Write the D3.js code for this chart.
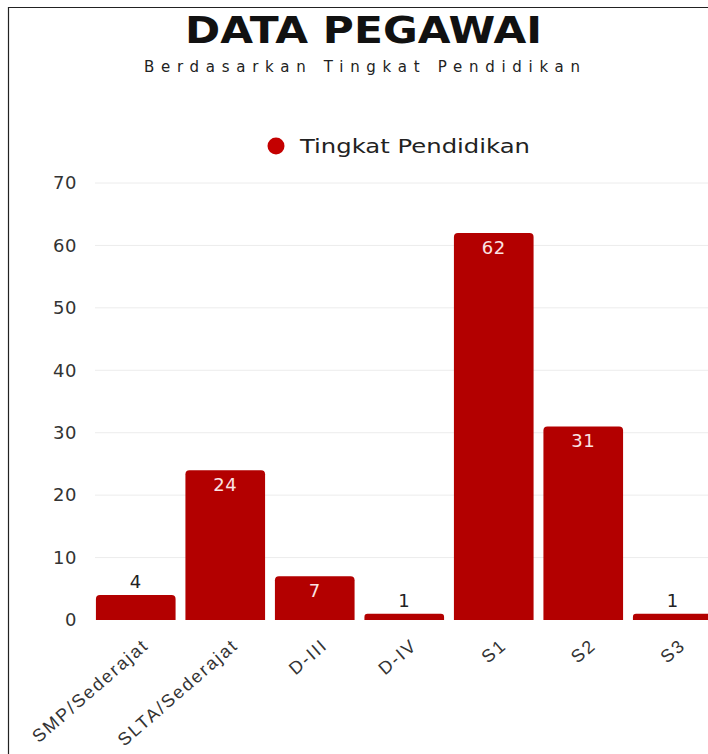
<!DOCTYPE html>
<html>
<head>
<meta charset="utf-8">
<script src="https://cdn.jsdelivr.net/npm/d3@7"></script>
<style>
  body { margin: 0; background: #fff; }
  svg { display: block; font-family: "DejaVu Sans", sans-serif; }
</style>
</head>
<body>
<div id="chart"></div>
<script>
// data
const categories = ["SMP/Sederajat", "SLTA/Sederajat", "D-III", "D-IV", "S1", "S2", "S3"];
const values = [4, 24, 7, 1, 62, 31, 1];
const yTicks = [0, 10, 20, 30, 40, 50, 60, 70];
const seriesName = "Tingkat Pendidikan";

const W = 708, H = 754;
const barColor = "#b30000";

const svg = d3.select("#chart").append("svg")
  .attr("width", W)
  .attr("height", H);

// frame lines (left + top)
svg.append("path")
  .attr("d", "M8.5,754 V7.5 H708")
  .attr("fill", "none")
  .attr("stroke", "#222")
  .attr("stroke-width", 1.2);

// title
svg.append("text")
  .attr("x", 185).attr("y", 43)
  .attr("textLength", 357)
  .attr("lengthAdjust", "spacingAndGlyphs")
  .style("font-weight", "bold")
  .style("font-size", "38px")
  .attr("fill", "#111")
  .text("DATA PEGAWAI");

svg.append("text")
  .attr("x", 144).attr("y", 72)
  .attr("textLength", 436)
  .attr("lengthAdjust", "spacing")
  .style("font-size", "15px")
  .attr("fill", "#222")
  .text("Berdasarkan Tingkat Pendidikan");

// legend
svg.append("circle")
  .attr("cx", 276).attr("cy", 146).attr("r", 8.5)
  .attr("fill", "#c40000");
svg.append("text")
  .attr("x", 300).attr("y", 153)
  .attr("textLength", 230)
  .attr("lengthAdjust", "spacingAndGlyphs")
  .style("font-size", "19px")
  .attr("fill", "#222")
  .text(seriesName);

// scales
const y = d3.scaleLinear().domain([0, 70]).range([620, 183]);
const x = d3.scaleBand().domain(categories).range([91, 717.5]).paddingInner(0.11).paddingOuter(0.055);

// grid
svg.append("g").selectAll("line")
  .data(yTicks.filter(d => d > 0))
  .enter().append("line")
  .attr("x1", 95).attr("x2", W)
  .attr("y1", d => y(d)).attr("y2", d => y(d))
  .attr("stroke", "#ececec")
  .attr("stroke-width", 1);

// y axis labels
const yAxis = d3.axisLeft(y).tickValues(yTicks).tickSize(0).tickPadding(0);
const gy = svg.append("g").attr("transform", "translate(77,0)").call(yAxis);
gy.select(".domain").remove();
gy.selectAll("text")
  .style("font-size", "18px")
  .style("font-family", "'DejaVu Sans', sans-serif")
  .style("letter-spacing", "0.5px")
  .attr("fill", "#333");

// bars with rounded top corners
function barPath(x0, w, y0, y1, r) {
  r = Math.min(r, (y1 - y0) / 2, w / 2);
  return `M${x0},${y1} V${y0 + r} Q${x0},${y0} ${x0 + r},${y0} H${x0 + w - r} Q${x0 + w},${y0} ${x0 + w},${y0 + r} V${y1} Z`;
}

svg.append("g").selectAll("path")
  .data(values)
  .enter().append("path")
  .attr("d", (d, i) => barPath(x(categories[i]), x.bandwidth(), y(d), y(0), 4))
  .attr("fill", barColor);

// value labels
svg.append("g").selectAll("text")
  .data(values)
  .enter().append("text")
  .attr("x", (d, i) => x(categories[i]) + x.bandwidth() / 2)
  .attr("y", d => d >= 7 ? y(d) + 21 : y(d) - 7)
  .attr("text-anchor", "middle")
  .style("font-size", "18px")
  .style("letter-spacing", "0.5px")
  .attr("fill", d => d >= 7 ? "#fbe3e3" : "#222")
  .text(d => d);

// x labels, rotated
const gx = svg.append("g").attr("transform", "translate(0,620)")
  .call(d3.axisBottom(x).tickSize(0).tickPadding(0));
gx.select(".domain").remove();
gx.selectAll("text")
  .style("font-size", "18px")
  .style("letter-spacing", "2px")
  .attr("fill", "#333")
  .attr("text-anchor", "end")
  .attr("dy", 0)
  .attr("transform", "translate(14,27) rotate(-41)");
</script>
</body>
</html>
